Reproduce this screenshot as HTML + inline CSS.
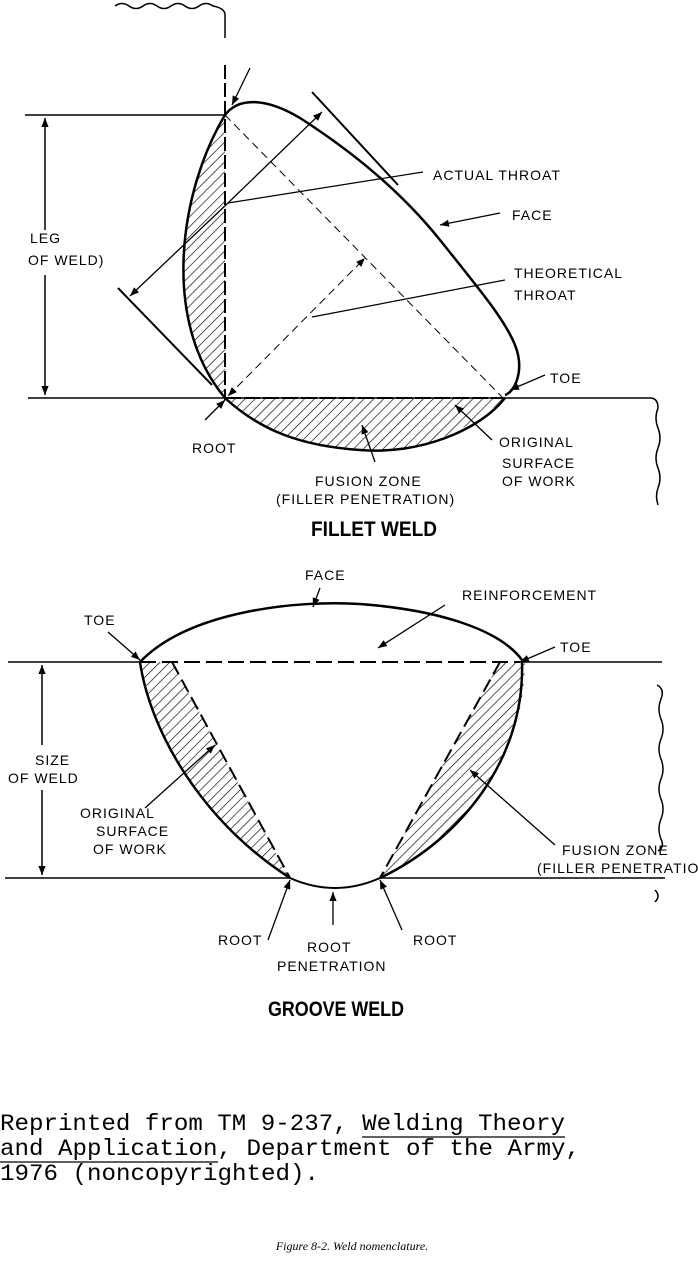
<!DOCTYPE html>
<html><head><style>
body{margin:0;background:#fff;}
svg{display:block}
.t{font-family:"Liberation Sans",sans-serif;font-size:14px;letter-spacing:1px;fill:#000}
.b{font-family:"Liberation Sans",sans-serif;font-size:21px;font-weight:bold;fill:#000}
.m{font-family:"Liberation Mono",monospace;font-size:23px;fill:#000}
</style></head><body>
<svg width="698" height="1281" viewBox="0 0 698 1281" xmlns="http://www.w3.org/2000/svg">
<defs>
<marker id="a" viewBox="0 0 10 10" refX="10" refY="5" markerWidth="9" markerHeight="9" orient="auto-start-reverse" markerUnits="userSpaceOnUse"><path d="M0,1 L10,5 L0,9 z"/></marker>
<pattern id="h" width="7" height="7" patternUnits="userSpaceOnUse" patternTransform="rotate(45)"><line x1="0" y1="0" x2="0" y2="7" stroke="#000" stroke-width="1.3"/></pattern>
</defs>
<g fill="none" stroke="#000" stroke-width="1.5">
<path d="M115,6 q7,-5 14,0 t14,0 t14,0 t14,0 t14,0 t14,0 t14,0 Q224,8 225,14 L225,38"/>
<line x1="25" y1="115" x2="225" y2="115"/>
<line x1="28" y1="398" x2="650" y2="398"/>
<path d="M650,398 q8,0 8,10 q-4,10 0,20 q4,10 0,20 q-4,10 0,20 q4,10 0,20 q-3,8 0,17"/>
<line x1="45" y1="118" x2="45" y2="230" marker-start="url(#a)"/>
<line x1="45" y1="275" x2="45" y2="395" marker-end="url(#a)"/>
<path d="M225,115 C180,190 160,320 225,398 L225,115 Z" fill="url(#h)" stroke="none"/>
<path d="M225,398 L505,398 C470,430 420,455 360,450 C300,446 250,425 225,398 Z" fill="url(#h)" stroke="none"/>
<line x1="225" y1="65" x2="225" y2="400" stroke-width="2" stroke-dasharray="14,4"/>
<line x1="225" y1="398" x2="505" y2="398" stroke-width="2" stroke-dasharray="16,3"/>
<path d="M225,115 C180,190 160,320 225,398 C260,430 300,446 360,450 C420,455 480,430 505,398" stroke-width="2.5"/>
<path d="M225,115 C240,95 270,100 300,118 C350,150 400,190 440,240 C480,290 505,320 515,345 C525,370 515,392 505,395" stroke-width="2.5"/>
<line x1="225" y1="115" x2="503" y2="398" stroke-width="1" stroke-dasharray="8,5"/>
<line x1="228" y1="396" x2="365" y2="258" stroke-width="1" stroke-dasharray="8,5" marker-start="url(#a)" marker-end="url(#a)"/>
<line x1="228" y1="203" x2="322" y2="112" stroke-width="1.3" marker-end="url(#a)"/>
<line x1="228" y1="203" x2="130" y2="296" stroke-width="1.3" marker-end="url(#a)"/>
<line x1="312" y1="92" x2="398" y2="185" stroke-width="2"/>
<line x1="118" y1="288" x2="212" y2="385" stroke-width="2"/>
<line x1="228" y1="203" x2="423" y2="172" stroke-width="1.2"/>
<line x1="312" y1="317" x2="505" y2="280" stroke-width="1.2"/>
<line x1="500" y1="213" x2="440" y2="225" stroke-width="1.3" marker-end="url(#a)"/>
<line x1="250" y1="68" x2="232" y2="105" stroke-width="1.3" marker-end="url(#a)"/>
<line x1="545" y1="375" x2="510" y2="390" stroke-width="1.3" marker-end="url(#a)"/>
<line x1="205" y1="420" x2="225" y2="400" stroke-width="1.3" marker-end="url(#a)"/>
<line x1="375" y1="462" x2="362" y2="425" stroke-width="1.3" marker-end="url(#a)"/>
<line x1="492" y1="440" x2="455" y2="405" stroke-width="1.3" marker-end="url(#a)"/>
<line x1="8" y1="662" x2="140" y2="662"/>
<line x1="520" y1="662" x2="662" y2="662"/>
<line x1="140" y1="662" x2="520" y2="662" stroke-width="2" stroke-dasharray="16,6"/>
<path d="M140,662 C190,610 300,600 360,604 C440,610 500,630 522,660" stroke-width="2.5"/>
<path d="M140,662 C150,730 200,820 290,878 L172,662 Z" fill="url(#h)" stroke="none"/>
<path d="M500,662 L525,662 C525,760 460,840 380,878 Z" fill="url(#h)" stroke="none"/>
<path d="M140,662 C150,730 200,820 290,878" stroke-width="2.5"/>
<line x1="172" y1="662" x2="290" y2="878" stroke-width="2" stroke-dasharray="14,6"/>
<path d="M522,662 C525,760 460,840 380,878" stroke-width="2.5"/>
<line x1="500" y1="662" x2="380" y2="878" stroke-width="2" stroke-dasharray="14,6"/>
<line x1="5" y1="878" x2="290" y2="878"/>
<line x1="380" y1="878" x2="665" y2="878"/>
<path d="M290,878 Q335,898 380,878" stroke-width="2"/>
<line x1="42" y1="665" x2="42" y2="745" marker-start="url(#a)"/>
<line x1="42" y1="790" x2="42" y2="875" marker-end="url(#a)"/>
<path d="M657,685 q8,4 4,14 q-4,10 0,20 q4,10 0,20 q-4,10 0,20 q4,10 0,20 q-4,10 0,20 q4,10 0,20 q-4,10 0,20 q4,8 -3,12"/>
<path d="M655,890 q6,6 0,12"/>
<line x1="320" y1="588" x2="313" y2="607" stroke-width="1.3" marker-end="url(#a)"/>
<line x1="445" y1="605" x2="378" y2="648" stroke-width="1.3" marker-end="url(#a)"/>
<line x1="108" y1="632" x2="140" y2="660" stroke-width="1.3" marker-end="url(#a)"/>
<line x1="555" y1="647" x2="520" y2="662" stroke-width="1.3" marker-end="url(#a)"/>
<line x1="145" y1="808" x2="215" y2="745" stroke-width="1.3" marker-end="url(#a)"/>
<line x1="555" y1="845" x2="470" y2="770" stroke-width="1.3" marker-end="url(#a)"/>
<line x1="268" y1="940" x2="290" y2="880" stroke-width="1.3" marker-end="url(#a)"/>
<line x1="333" y1="925" x2="333" y2="892" stroke-width="1.3" marker-end="url(#a)"/>
<line x1="402" y1="930" x2="380" y2="880" stroke-width="1.3" marker-end="url(#a)"/>
<line x1="362" y1="1137" x2="565" y2="1137" stroke-width="1.2"/>
<line x1="0" y1="1162" x2="218" y2="1162" stroke-width="1.2"/>
</g>
<g class="t">
<text x="433" y="180">ACTUAL THROAT</text>
<text x="512" y="220">FACE</text>
<text x="30" y="243">LEG</text>
<text x="28" y="265">OF WELD)</text>
<text x="514" y="278">THEORETICAL</text>
<text x="514" y="300">THROAT</text>
<text x="550" y="383">TOE</text>
<text x="192" y="453">ROOT</text>
<text x="499" y="447">ORIGINAL</text>
<text x="502" y="468">SURFACE</text>
<text x="502" y="486">OF WORK</text>
<text x="315" y="486">FUSION ZONE</text>
<text x="276" y="504">(FILLER PENETRATION)</text>
<text x="305" y="580">FACE</text>
<text x="462" y="600">REINFORCEMENT</text>
<text x="84" y="625">TOE</text>
<text x="560" y="652">TOE</text>
<text x="35" y="765">SIZE</text>
<text x="8" y="783">OF WELD</text>
<text x="80" y="818">ORIGINAL</text>
<text x="96" y="836">SURFACE</text>
<text x="93" y="854">OF WORK</text>
<text x="562" y="855">FUSION ZONE</text>
<text x="537" y="873">(FILLER PENETRATION)</text>
<text x="218" y="945">ROOT</text>
<text x="307" y="952">ROOT</text>
<text x="277" y="971">PENETRATION</text>
<text x="413" y="945">ROOT</text>
</g>
<text class="b" x="311" y="536" textLength="126" lengthAdjust="spacingAndGlyphs">FILLET WELD</text>
<text class="b" x="268" y="1016" textLength="136" lengthAdjust="spacingAndGlyphs">GROOVE WELD</text>
<text class="m" x="0" y="1130" textLength="565" lengthAdjust="spacingAndGlyphs">Reprinted from TM 9-237, Welding Theory</text>
<text class="m" x="0" y="1155" textLength="580" lengthAdjust="spacingAndGlyphs">and Application, Department of the Army,</text>
<text class="m" x="0" y="1180" textLength="319" lengthAdjust="spacingAndGlyphs">1976 (noncopyrighted).</text>
<text x="352" y="1250" text-anchor="middle" style="font-family:'Liberation Serif',serif;font-style:italic;font-size:12px">Figure 8-2. Weld nomenclature.</text>
</svg>
</body></html>
